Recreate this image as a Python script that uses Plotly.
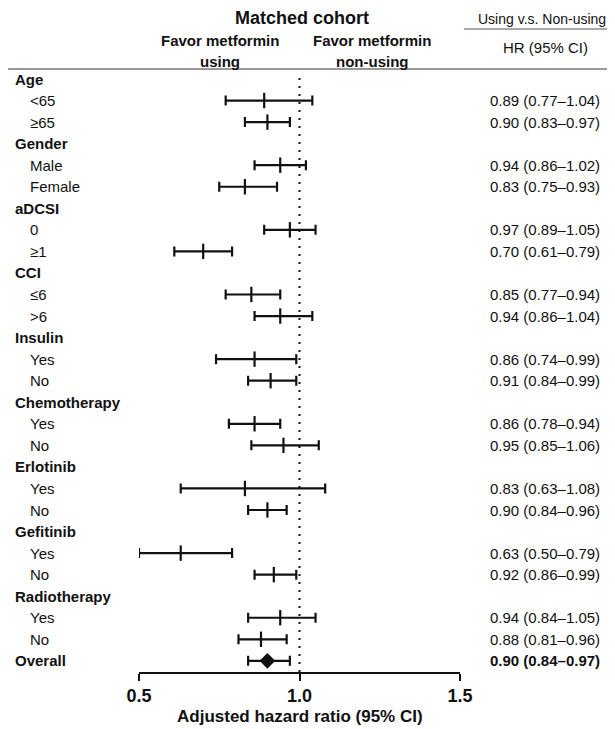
import plotly.graph_objects as go

# ---------------- data ----------------
row_labels = ["Age", "<65", "≥65",
              "Gender", "Male", "Female",
              "aDCSI", "0", "≥1",
              "CCI", "≤6", ">6",
              "Insulin", "Yes", "No",
              "Chemotherapy", "Yes", "No",
              "Erlotinib", "Yes", "No",
              "Gefitinib", "Yes", "No",
              "Radiotherapy", "Yes", "No",
              "Overall"]
is_header = [True, False, False,
             True, False, False,
             True, False, False,
             True, False, False,
             True, False, False,
             True, False, False,
             True, False, False,
             True, False, False,
             True, False, False,
             True]
hr_vals = [None, 0.89, 0.90, None, 0.94, 0.83, None, 0.97, 0.70, None, 0.85, 0.94,
           None, 0.86, 0.91, None, 0.86, 0.95, None, 0.83, 0.90, None, 0.63, 0.92,
           None, 0.94, 0.88, 0.90]
ci_low = [None, 0.77, 0.83, None, 0.86, 0.75, None, 0.89, 0.61, None, 0.77, 0.86,
          None, 0.74, 0.84, None, 0.78, 0.85, None, 0.63, 0.84, None, 0.50, 0.86,
          None, 0.84, 0.81, 0.84]
ci_high = [None, 1.04, 0.97, None, 1.02, 0.93, None, 1.05, 0.79, None, 0.94, 1.04,
           None, 0.99, 0.99, None, 0.94, 1.06, None, 1.08, 0.96, None, 0.79, 0.99,
           None, 1.05, 0.96, 0.97]
tick_vals = [0.5, 1.0, 1.5]
tick_text = ["0.5", "1.0", "1.5"]

# ---------------- layout geometry ----------------
W, H = 615, 729
L, R = 131, 452          # plot area x pixels
T, B = 64, 664           # plot area y pixels
ROW0 = 71.0              # pixel y of first row
STEP = 21.55             # pixel per row
ymax = (ROW0 - T) / STEP
ymin = ymax - (B - T) / STEP

def px(x):
    return (x - L) / (R - L)

def py(y):
    return (B - y) / (B - T)

FONT = "Liberation Sans, Arial, sans-serif"
INK = "#111111"

fig = go.Figure()

sub_idx = [i for i, v in enumerate(hr_vals) if v is not None and row_labels[i] != "Overall"]
ov_idx = [i for i, v in enumerate(hr_vals) if row_labels[i] == "Overall"]

def add_series(idx, symbol, size, lw):
    fig.add_trace(go.Scatter(
        x=[hr_vals[i] for i in idx],
        y=[-i for i in idx],
        mode="markers",
        marker=dict(symbol=symbol, size=size, color=INK,
                    line=dict(color=INK, width=lw)),
        error_x=dict(type="data", symmetric=False,
                     array=[ci_high[i] - hr_vals[i] for i in idx],
                     arrayminus=[hr_vals[i] - ci_low[i] for i in idx],
                     color=INK, thickness=2.2, width=5),
        showlegend=False, hoverinfo="skip"))

add_series(sub_idx, "line-ns", 11, 2.2)
add_series(ov_idx, "diamond", 12, 0)

# dotted reference line
fig.add_shape(type="line", xref="x", yref="paper", x0=1, x1=1, y0=0, y1=py(66),
              line=dict(color=INK, width=2, dash="2px,6px"))

# header lines
fig.add_shape(type="line", xref="paper", yref="paper", x0=px(0), x1=px(W),
              y0=py(61), y1=py(61), line=dict(color="#777777", width=1.5))
fig.add_shape(type="line", xref="paper", yref="paper", x0=px(456), x1=px(W),
              y0=py(21), y1=py(21), line=dict(color="#555555", width=1.2))

ann = []
def text(x, y, s, size, bold=False, xanchor="left", xref="paper", yref="paper"):
    ann.append(dict(x=x, y=y, xref=xref, yref=yref, text=("<b>%s</b>" % s) if bold else s,
                    showarrow=False, xanchor=xanchor, yanchor="middle",
                    font=dict(family=FONT, size=size, color=INK)))

# header texts
text(px(294), py(10), "Matched cohort", 18, bold=True, xanchor="center")
text(px(600), py(11), "Using v.s. Non-using", 14, xanchor="right")
text(px(212), py(32), "Favor metformin", 15, bold=True, xanchor="center")
text(px(212), py(53), "using", 15, bold=True, xanchor="center")
text(px(364), py(32), "Favor metformin", 15, bold=True, xanchor="center")
text(px(364), py(53), "non-using", 15, bold=True, xanchor="center")
text(px(537), py(40), "HR (95% CI)", 15, xanchor="center")

# row labels and HR text
for i, lab in enumerate(row_labels):
    y = -i
    if is_header[i]:
        text(px(5), y, lab, 15, bold=True, yref="y")
    else:
        text(px(20), y, lab, 15, yref="y")
    if hr_vals[i] is not None:
        s = "%.2f (%.2f\u2013%.2f)" % (hr_vals[i], ci_low[i], ci_high[i])
        text(px(480), y, s, 15, bold=(lab == "Overall"), yref="y")

# axis title
text(px(292), py(708), "Adjusted hazard ratio (95% CI)", 17, bold=True, xanchor="center")

fig.update_layout(
    width=W, height=H,
    margin=dict(l=L, r=W - R, t=T, b=H - B, pad=0),
    paper_bgcolor="white", plot_bgcolor="white",
    annotations=ann,
    xaxis=dict(range=[0.5, 1.5], showgrid=False, zeroline=False,
               showline=True, linecolor=INK, linewidth=1.5,
               ticks="outside", ticklen=7, tickwidth=1.5, tickcolor=INK,
               ticklabelstandoff=0,
               tickvals=tick_vals, ticktext=["<b>%s</b>" % t for t in tick_text],
               tickfont=dict(family=FONT, size=18, color=INK)),
    yaxis=dict(range=[ymin, ymax], visible=False, showgrid=False, zeroline=False),
)

fig.write_html("out.html")
